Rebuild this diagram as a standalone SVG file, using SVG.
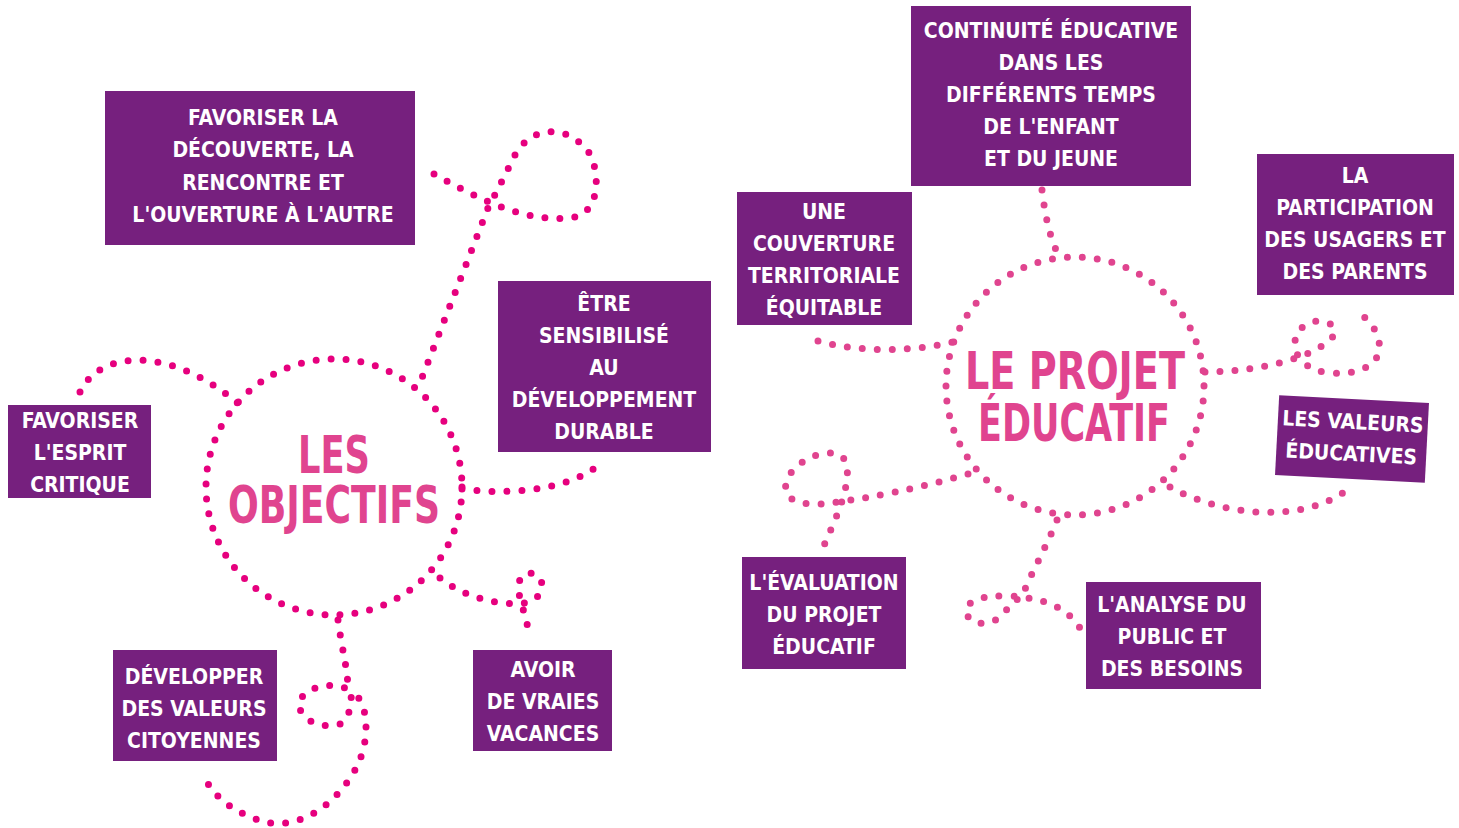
<svg xmlns="http://www.w3.org/2000/svg" width="1459" height="828" viewBox="0 0 1459 828">
<style>
.box{fill:#76207E}
.t{font-family:"DejaVu Sans Condensed","DejaVu Sans",sans-serif;font-weight:bold;font-size:21px;fill:#fff;text-anchor:middle}
.ttl{font-family:"DejaVu Sans Condensed","DejaVu Sans",sans-serif;font-weight:bold;font-size:52px;fill:#E0448F;text-anchor:middle}
.dl{fill:none;stroke:#E6007E;stroke-width:7;stroke-linecap:round;stroke-dasharray:0 15}
.dr{fill:none;stroke:#E0448F;stroke-width:7;stroke-linecap:round;stroke-dasharray:0 15}
</style>
<rect width="1459" height="828" fill="#fff"/>
<g id="connectors">
<path class="dl" d="M434,174 C480,200 530,225 575,217 C605,210 600,155 580,143 C560,125 530,128 515,155 C505,175 495,195 488,208 L418,388"/>
<path class="dl" d="M80,392 C100,350 170,345 240,405"/>
<path class="dl" d="M462,489 C520,497 580,485 600,463"/>
<path class="dl" d="M440,578 C465,598 500,606 525,603 C545,600 548,575 530,573 C515,572 518,595 522,605 L530,635"/>
<path class="dl" d="M338,620 C342,650 348,670 348,690 C340,683 310,683 300,700 C295,718 320,730 340,724 C352,718 350,700 352,692 C368,700 372,740 355,770 C335,805 300,830 265,822 C240,815 215,800 205,778"/>
<path class="dr" d="M1042,190 C1045,215 1050,240 1060,258"/>
<path class="dr" d="M818,341 C860,353 920,352 960,340"/>
<path class="dr" d="M1205,372 C1240,372 1300,365 1330,340 C1345,325 1320,315 1305,325 C1285,340 1295,370 1330,373 C1365,376 1390,360 1375,330 L1357,308"/>
<path class="dr" d="M1170,487 C1220,515 1300,525 1347,490"/>
<path class="dr" d="M968,474 C920,488 870,498 830,503 C800,507 780,500 787,480 C795,458 840,440 847,465 C850,490 835,520 822,550"/>
<path class="dr" d="M1057,520 C1045,550 1030,575 1022,597 C1015,600 1010,605 1005,612 C995,625 975,628 967,615 C962,600 985,595 1010,596 C1040,598 1065,605 1080,628"/>
</g>
<g id="objectifs">
<circle class="dl" cx="334" cy="487" r="128"/>
<text class="ttl" x="334" y="473" textLength="72" lengthAdjust="spacingAndGlyphs">LES</text>
<text class="ttl" x="334" y="523" textLength="212" lengthAdjust="spacingAndGlyphs">OBJECTIFS</text>
</g>
<g id="projet">
<circle class="dr" cx="1075" cy="386" r="129"/>
<text class="ttl" x="1075" y="389" textLength="220" lengthAdjust="spacingAndGlyphs">LE PROJET</text>
<text class="ttl" x="1074" y="441" textLength="192" lengthAdjust="spacingAndGlyphs">ÉDUCATIF</text>
</g>
<g id="decouverte">
<rect class="box" x="105" y="91" width="310" height="154"/>
<text class="t" x="263" y="125">FAVORISER LA</text>
<text class="t" x="263" y="157">DÉCOUVERTE, LA</text>
<text class="t" x="263" y="190">RENCONTRE ET</text>
<text class="t" x="263" y="222">L'OUVERTURE À L'AUTRE</text>
</g>
<g id="esprit">
<rect class="box" x="8" y="405" width="143" height="93"/>
<text class="t" x="80" y="428">FAVORISER</text>
<text class="t" x="80" y="460">L'ESPRIT</text>
<text class="t" x="80" y="492">CRITIQUE</text>
</g>
<g id="durable">
<rect class="box" x="498" y="281" width="213" height="171"/>
<text class="t" x="604" y="311">ÊTRE</text>
<text class="t" x="604" y="343">SENSIBILISÉ</text>
<text class="t" x="604" y="375">AU</text>
<text class="t" x="604" y="407">DÉVELOPPEMENT</text>
<text class="t" x="604" y="439">DURABLE</text>
</g>
<g id="citoyennes">
<rect class="box" x="113" y="650" width="164" height="111"/>
<text class="t" x="194" y="684">DÉVELOPPER</text>
<text class="t" x="194" y="716">DES VALEURS</text>
<text class="t" x="194" y="748">CITOYENNES</text>
</g>
<g id="vacances">
<rect class="box" x="473" y="650" width="139" height="101"/>
<text class="t" x="543" y="677">AVOIR</text>
<text class="t" x="543" y="709">DE VRAIES</text>
<text class="t" x="543" y="741">VACANCES</text>
</g>
<g id="continuite">
<text class="t" x="1051" y="6">LA</text>
<rect class="box" x="911" y="6" width="280" height="180"/>
<text class="t" x="1051" y="38">CONTINUITÉ ÉDUCATIVE</text>
<text class="t" x="1051" y="70">DANS LES</text>
<text class="t" x="1051" y="102">DIFFÉRENTS TEMPS</text>
<text class="t" x="1051" y="134">DE L'ENFANT</text>
<text class="t" x="1051" y="166">ET DU JEUNE</text>
</g>
<g id="couverture">
<rect class="box" x="737" y="192" width="175" height="133"/>
<text class="t" x="824" y="219">UNE</text>
<text class="t" x="824" y="251">COUVERTURE</text>
<text class="t" x="824" y="283">TERRITORIALE</text>
<text class="t" x="824" y="315">ÉQUITABLE</text>
</g>
<g id="participation">
<rect class="box" x="1257" y="154" width="197" height="141"/>
<text class="t" x="1355" y="183">LA</text>
<text class="t" x="1355" y="215">PARTICIPATION</text>
<text class="t" x="1355" y="247">DES USAGERS ET</text>
<text class="t" x="1355" y="279">DES PARENTS</text>
</g>
<g id="valeurs" transform="rotate(3 1352 439)">
<rect class="box" x="1277" y="399" width="150" height="80"/>
<text class="t" x="1352" y="429">LES VALEURS</text>
<text class="t" x="1352" y="461">ÉDUCATIVES</text>
</g>
<g id="evaluation">
<rect class="box" x="742" y="557" width="164" height="112"/>
<text class="t" x="824" y="590">L'ÉVALUATION</text>
<text class="t" x="824" y="622">DU PROJET</text>
<text class="t" x="824" y="654">ÉDUCATIF</text>
</g>
<g id="analyse">
<rect class="box" x="1086" y="582" width="175" height="107"/>
<text class="t" x="1172" y="612">L'ANALYSE DU</text>
<text class="t" x="1172" y="644">PUBLIC ET</text>
<text class="t" x="1172" y="676">DES BESOINS</text>
</g>
</svg>
